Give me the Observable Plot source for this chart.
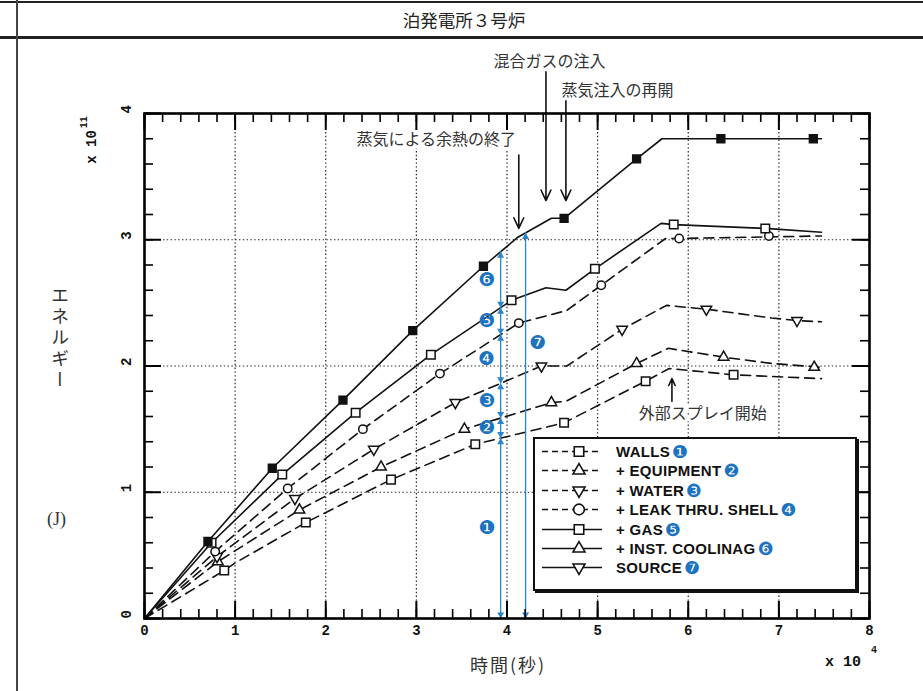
<!DOCTYPE html>
<html><head><meta charset="utf-8">
<script src="https://cdn.jsdelivr.net/npm/d3@7"></script>
<script src="https://cdn.jsdelivr.net/npm/@observablehq/plot@0.6"></script>
<style>
body{margin:0;background:#fff;}
#page{position:relative;width:923px;height:691px;overflow:hidden;background:#fff;font-family:"Noto Sans CJK JP",sans-serif;color:#222;}
.abs{position:absolute;}
#legend{position:absolute;left:533px;top:437px;width:320px;height:150px;border:2px solid #111;box-shadow:2px 2px 0 #111;background:#fff;}
.row{position:absolute;left:0;height:19px;display:flex;align-items:center;}
.row span.t{font-family:"Liberation Sans",sans-serif;font-weight:bold;font-size:15px;color:#111;letter-spacing:0.3px;}
.row span.n{font-family:"DejaVu Sans",sans-serif;font-size:18px;line-height:19px;color:#1c74c0;margin-left:2px;}
</style></head><body>
<div id="page">
  <div id="chart" class="abs" style="left:0;top:0;width:923px;height:691px"></div>
  <div id="axes" class="abs" style="left:0;top:0;width:923px;height:691px;pointer-events:none"></div>
  <div class="abs" style="left:0;top:1px;width:923px;height:2px;background:#222"></div>
  <div class="abs" style="left:0;top:36px;width:923px;height:3px;background:#222"></div>
  <div class="abs" style="left:16px;top:0;width:2px;height:691px;background:#444"></div>
  <div id="title" class="abs" style="left:364px;width:200px;top:8px;text-align:center;font-size:17.5px;line-height:24px;color:#222">泊発電所３号炉</div>
  <div class="abs" style="left:47px;top:286px;writing-mode:vertical-rl;font-size:18px;letter-spacing:3px;color:#333">エネルギー</div>
  <div class="abs" style="left:47px;top:509px;font-family:'Liberation Serif',serif;font-size:18px;color:#333">(J)</div>
  <div class="abs" style="left:470px;top:651px;font-size:18px;letter-spacing:2px;color:#333">時間(秒)</div>
  <div class="abs" style="left:92px;top:140px;transform:translate(-50%,-50%) rotate(-90deg);font-family:'Liberation Mono',monospace;font-weight:bold;font-size:14px;white-space:nowrap;color:#111">x 10<span style="font-size:10px;position:relative;top:-9px;margin-left:2px">11</span></div>
  <div class="abs" style="left:825px;top:654px;font-family:'Liberation Mono',monospace;font-weight:bold;font-size:15px;white-space:nowrap;color:#111">x 10<span style="font-size:10px;position:relative;top:-13px;margin-left:10px">4</span></div>
  <div id="legend"></div>
</div>
<script>
// ---------------- data ----------------
const xTickValues = [0, 1, 2, 3, 4, 5, 6, 7, 8];
const yTickValues = [0, 1, 2, 3, 4];

const wallsLine  = [[0,0],[0.88,0.38],[1.00,0.44],[1.78,0.76],[2.72,1.10],[3.65,1.38],[4.63,1.55],[5.53,1.88],[5.79,1.98],[6.50,1.93],[7.47,1.90]];
const wallsMarks = [[0.88,0.38],[1.78,0.76],[2.72,1.10],[3.65,1.38],[4.63,1.55],[5.53,1.88],[6.50,1.93]];
const equipLine  = [[0,0],[0.81,0.45],[1.71,0.86],[2.61,1.20],[3.53,1.50],[4.49,1.71],[4.65,1.72],[5.43,2.02],[5.78,2.14],[6.39,2.07],[6.92,2.02],[7.47,1.99]];
const equipMarks = [[0.81,0.45],[1.71,0.86],[2.61,1.20],[3.53,1.50],[4.49,1.71],[5.43,2.02],[6.39,2.07],[7.39,1.99]];
const waterLine  = [[0,0],[0.80,0.49],[1.66,0.95],[2.53,1.34],[3.43,1.71],[4.38,2.00],[4.66,2.00],[5.27,2.29],[5.76,2.48],[6.20,2.45],[6.92,2.38],[7.20,2.36],[7.47,2.35]];
const waterMarks = [[0.80,0.49],[1.66,0.95],[2.53,1.34],[3.43,1.71],[4.38,2.00],[5.27,2.29],[6.20,2.45],[7.20,2.36]];
const leakLine   = [[0,0],[0.78,0.53],[1.58,1.03],[2.41,1.50],[3.26,1.94],[4.13,2.34],[4.66,2.44],[5.04,2.64],[5.75,3.01],[5.90,3.01],[7.47,3.03]];
const leakMarks  = [[0.78,0.53],[1.58,1.03],[2.41,1.50],[3.26,1.94],[4.13,2.34],[5.04,2.64],[5.90,3.01],[6.89,3.03]];
const gasLine    = [[0,0],[0.74,0.60],[1.52,1.14],[2.33,1.63],[3.16,2.09],[4.05,2.52],[4.43,2.62],[4.65,2.60],[4.97,2.77],[5.70,3.13],[5.84,3.12],[6.85,3.09],[7.47,3.06]];
const gasMarks   = [[0.74,0.60],[1.52,1.14],[2.33,1.63],[3.16,2.09],[4.05,2.52],[4.97,2.77],[5.84,3.12],[6.85,3.09]];
const sourceLine = [[0,0],[0.70,0.61],[1.41,1.19],[2.19,1.73],[2.96,2.28],[3.74,2.79],[4.12,3.02],[4.49,3.17],[4.63,3.17],[5.43,3.64],[5.71,3.80],[7.47,3.80]];
const sourceMarks= [[0.70,0.61],[1.41,1.19],[2.19,1.73],[2.96,2.28],[3.74,2.79],[4.63,3.17],[5.43,3.64],[6.36,3.80],[7.38,3.80]];

const legendLabels  = ["WALLS", "+ EQUIPMENT", "+ WATER", "+ LEAK THRU. SHELL", "+ GAS", "+ INST. COOLINAG", "SOURCE"];
const legendNumbers = ["❶", "❷", "❸", "❹", "❺", "❻", "❼"];
const bracketNumbers = ["❶", "❷", "❸", "❹", "❺", "❻"];
const sourceNumber = "❼";

const bracketT = 3.93;        // time of the stacked blue brackets
const sourceBracketT = 4.205; // time of the total (source) bracket
const sourceNumberE = 2.18;

const eventLabels    = ["蒸気による余熱の終了", "混合ガスの注入", "蒸気注入の再開", "外部スプレイ開始"];
const eventTimes     = [4.13, 4.43, 4.65, 5.82];
const eventArrowFrom = [3.67, 4.33, 4.10, 1.72];
const eventArrowTo   = [3.09, 3.31, 3.31, 1.90];
const eventLabelT    = [3.22, 4.47, 5.22, 6.16];
const eventLabelE    = [3.79, 4.405, 4.18, 1.62];

// ---------------- styles ----------------
const seriesDefs = [
  {line: wallsLine,  marks: wallsMarks,  dashed: true,  symbol: "square",   rotate: 0,   fill: "white", r: 4.8},
  {line: equipLine,  marks: equipMarks,  dashed: true,  symbol: "triangle", rotate: 0,   fill: "white", r: 3.9},
  {line: waterLine,  marks: waterMarks,  dashed: true,  symbol: "triangle", rotate: 180, fill: "white", r: 3.9},
  {line: leakLine,   marks: leakMarks,   dashed: true,  symbol: "circle",   rotate: 0,   fill: "white", r: 4.2},
  {line: gasLine,    marks: gasMarks,    dashed: false, symbol: "square",   rotate: 0,   fill: "white", r: 4.8},
  {line: sourceLine, marks: sourceMarks, dashed: false, symbol: "square",   rotate: 0,   fill: "#111",  r: 4.4}
];
const BLUE = "#2a86cc", BLUE_N = "#1c74c0", INK = "#111";

const W = 923, H = 691, mL = 144, mR = 54, mT = 113, mB = 73;
const fw = W - mL - mR, fh = H - mT - mB;
const xMax = 8, yMax = 4;

function interp(pts, t) {
  for (let i = 1; i < pts.length; i++) {
    const [x0, y0] = pts[i - 1], [x1, y1] = pts[i];
    if (t >= x0 && t <= x1) return y0 + (y1 - y0) * (t - x0) / (x1 - x0);
  }
  return pts[pts.length - 1][1];
}

const xMinorTop = d3.range(0, 41).map(i => i / 5);
const xMinorBottom = d3.range(0, 41).map(i => i / 5);
const yMinorLeft = d3.range(0, 21).map(i => i / 5);
const yMinorRight = d3.range(0, 21).map(i => i / 5);

const bounds = [0, ...seriesDefs.map(s => interp(s.line, bracketT))];
const segs = d3.pairs(bounds).map((d, i) => ({lo: d[0], hi: d[1], label: bracketNumbers[i]}));
const srcTop = interp(sourceLine, sourceBracketT);
const srcSeg = [{lo: 0, hi: srcTop}];

const events = eventLabels.map((label, i) => ({label, t: eventTimes[i], from: eventArrowFrom[i], to: eventArrowTo[i], lt: eventLabelT[i], le: eventLabelE[i]}));

const jp = "Noto Sans CJK JP";
const common = {
  width: W, height: H,
  marginLeft: mL, marginRight: mR, marginTop: mT, marginBottom: mB,
  x: {domain: [0, xMax], axis: null},
  y: {domain: [0, yMax], axis: null},
  style: {background: "transparent", fontFamily: jp}
};

// ---- main chart: grid, series, annotations ----
const chart = Plot.plot({
  ...common,
  marks: [
    Plot.ruleX(xTickValues.slice(1, -1), {stroke: "#222", strokeWidth: 1.2, strokeDasharray: "1.4,2.4"}),
    Plot.ruleY(yTickValues.slice(1, -1), {stroke: "#222", strokeWidth: 1.2, strokeDasharray: "1.4,2.4"}),
    ...seriesDefs.map(s => Plot.line(s.line, {x: d => d[0], y: d => d[1], stroke: INK, strokeWidth: 1.6,
        strokeDasharray: s.dashed ? "10,6" : "none"})),
    ...seriesDefs.map(s => Plot.dot(s.marks, {x: d => d[0], y: d => d[1], symbol: s.symbol, rotate: s.rotate,
        r: s.r, fill: s.fill, stroke: INK, strokeWidth: 1.5})),
    Plot.text(xTickValues, {x: d => d, frameAnchor: "bottom", dy: 16, text: d => String(d),
        fontSize: 14, fontWeight: "bold", fontFamily: "Liberation Mono", fill: INK}),
    Plot.text(yTickValues, {y: d => d, frameAnchor: "left", dx: -18, rotate: -90, text: d => String(d),
        fontSize: 14, fontWeight: "bold", fontFamily: "Liberation Mono", fill: INK}),
    Plot.ruleX(segs, {x: () => bracketT, y1: "lo", y2: "hi", stroke: BLUE, strokeWidth: 1.3}),
    Plot.dot(segs, {x: () => bracketT, y: "hi", symbol: "triangle", r: 2.6, dy: 4, fill: BLUE, stroke: "none"}),
    Plot.dot(segs, {x: () => bracketT, y: "lo", symbol: "triangle", rotate: 180, r: 2.6, dy: -4, fill: BLUE, stroke: "none"}),
    Plot.text(segs, {x: () => bracketT, y: d => (d.lo + d.hi) / 2, text: "label", dx: -14, fill: BLUE_N,
        fontSize: 19, fontFamily: "DejaVu Sans"}),
    Plot.ruleX(srcSeg, {x: () => sourceBracketT, y1: "lo", y2: "hi", stroke: BLUE, strokeWidth: 1.3}),
    Plot.dot(srcSeg, {x: () => sourceBracketT, y: "hi", symbol: "triangle", r: 2.6, dy: 4, fill: BLUE, stroke: "none"}),
    Plot.dot(srcSeg, {x: () => sourceBracketT, y: "lo", symbol: "triangle", rotate: 180, r: 2.6, dy: -4, fill: BLUE, stroke: "none"}),
    Plot.text([sourceNumber], {x: () => sourceBracketT, y: () => sourceNumberE, text: d => d, dx: 12, fill: BLUE_N,
        fontSize: 19, fontFamily: "DejaVu Sans"}),
    Plot.text(events, {x: "lt", y: "le", text: "label", fontSize: 16, fontFamily: jp, fill: "white",
        stroke: "white", strokeWidth: 6}),
    Plot.text(events, {x: "lt", y: "le", text: "label", fontSize: 16, fontFamily: jp, fill: "#333"}),
    Plot.arrow(events, {x1: "t", x2: "t", y1: "from", y2: "to", stroke: INK, strokeWidth: 1.6,
        headLength: 11, headAngle: 50})
  ]
});
document.getElementById("chart").appendChild(chart);

// ---- overlay: frame and inward ticks on all four sides ----
const minorLen = 9, majorLen = 17;
const axes = Plot.plot({
  ...common,
  marks: [
    Plot.frame({stroke: "black", strokeWidth: 2.6}),
    Plot.ruleX(xMinorBottom, {stroke: "black", strokeWidth: 1.6, insetTop: fh - minorLen}),
    Plot.ruleX(xMinorTop, {stroke: "black", strokeWidth: 1.6, insetBottom: fh - minorLen}),
    Plot.ruleX(xTickValues, {stroke: "black", strokeWidth: 2, insetTop: fh - majorLen}),
    Plot.ruleX(xTickValues.slice(), {stroke: "black", strokeWidth: 2, insetBottom: fh - majorLen}),
    Plot.ruleY(yMinorLeft, {stroke: "black", strokeWidth: 1.6, insetRight: fw - minorLen}),
    Plot.ruleY(yMinorRight, {stroke: "black", strokeWidth: 1.6, insetLeft: fw - minorLen}),
    Plot.ruleY(yTickValues, {stroke: "black", strokeWidth: 2, insetRight: fw - majorLen}),
    Plot.ruleY(yTickValues.slice(), {stroke: "black", strokeWidth: 2, insetLeft: fw - majorLen})
  ]
});
document.getElementById("axes").appendChild(axes);

// ---------------- legend (HTML) ----------------
const legendStyles = [
  {dashed: true,  symbol: d3.symbolSquare,   size: 90, rotate: 0},
  {dashed: true,  symbol: d3.symbolTriangle, size: 62, rotate: 0},
  {dashed: true,  symbol: d3.symbolTriangle, size: 62, rotate: 180},
  {dashed: true,  symbol: d3.symbolCircle,   size: 90, rotate: 0},
  {dashed: false, symbol: d3.symbolSquare,   size: 90, rotate: 0},
  {dashed: false, symbol: d3.symbolTriangle, size: 62, rotate: 0},
  {dashed: false, symbol: d3.symbolTriangle, size: 62, rotate: 180}
];
const legend = document.getElementById("legend");
legendLabels.forEach((lab, i) => {
  const st = legendStyles[i];
  const row = document.createElement("div");
  row.className = "row";
  row.style.top = (3 + i * 19.4) + "px";
  const path = d3.symbol(st.symbol, st.size)();
  row.innerHTML =
    `<svg width="76" height="19" style="margin-left:5px">
       <line x1="2" x2="62" y1="9.5" y2="9.5" stroke="#111" stroke-width="1.6" ${st.dashed ? 'stroke-dasharray="6,4"' : ''}/>
       <path d="${path}" transform="translate(39,9.5) rotate(${st.rotate})" fill="white" stroke="#111" stroke-width="1.6"/>
     </svg><span class="t">${lab}</span><span class="n">${legendNumbers[i]}</span>`;
  legend.appendChild(row);
});
</script>
</body></html>
